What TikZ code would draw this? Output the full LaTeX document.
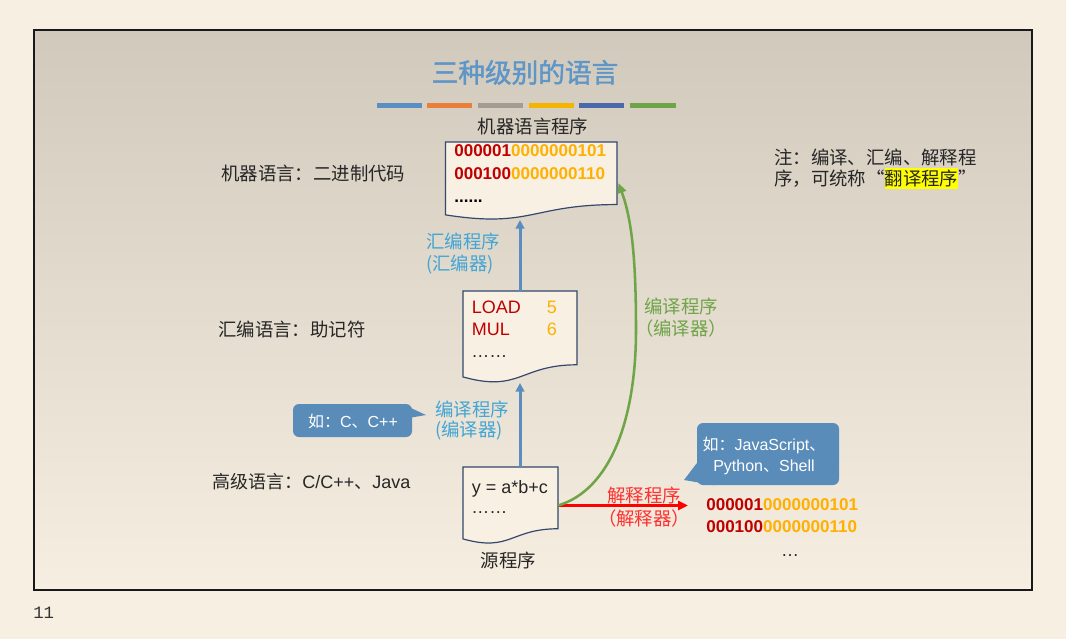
\documentclass[tikz,border=0pt]{standalone}
\usepackage{fontspec}
\setmainfont{Liberation Sans}
\setmonofont{Liberation Mono}
\newfontfamily\cjk{Noto Sans CJK SC}
\newfontfamily\cjktitle[FakeBold=1.6]{Noto Sans CJK SC}
\usetikzlibrary{calc,fit,arrows.meta}
\definecolor{pagebg}{HTML}{F7F0E2}
\definecolor{slidetop}{HTML}{D1C9BC}
\definecolor{slidemid}{HTML}{E9E1D2}
\definecolor{slidebot}{HTML}{F6EEE0}
\definecolor{titleblue}{HTML}{5F96C8}
\definecolor{barA}{HTML}{5B8FC4}
\definecolor{barB}{HTML}{E8803A}
\definecolor{barC}{HTML}{A29C91}
\definecolor{barD}{HTML}{F5B400}
\definecolor{barE}{HTML}{4A69A8}
\definecolor{barF}{HTML}{6FA448}
\definecolor{docfillc}{HTML}{F8F1E3}
\definecolor{doclinec}{HTML}{34476C}
\definecolor{darkred}{HTML}{C00000}
\definecolor{goldc}{HTML}{FFB000}
\definecolor{arrowblue}{HTML}{5B8DBF}
\definecolor{labelblue}{HTML}{42A5D5}
\definecolor{calloutblue}{HTML}{5A8CB9}
\definecolor{greenc}{HTML}{6FA448}
\definecolor{redc}{HTML}{FF0000}
\definecolor{redtext}{HTML}{FF3030}
\definecolor{textc}{HTML}{262626}
\definecolor{hl}{HTML}{FFFF00}
\newcommand\docshape[1]{%
  \path[docstyle] (#1.north west) -- (#1.north east)
    -- ($(#1.north east)!0.802!(#1.south east)$)
    .. controls ($(#1.north)!0.802!(#1.south)$) and ($(#1.north)!1.107!(#1.south)$)
    .. ($(#1.north west)!0.934!(#1.south west)$) -- cycle;}
\begin{document}
\begin{tikzpicture}[x=0.75pt,y=-0.75pt,
  docstyle/.style={fill=docfillc, draw=doclinec, line width=0.9pt},
  docbox/.style={inner sep=0pt, outer sep=0pt},
  cjktext/.style={font=\cjk\fontsize{13.8}{16.5}\selectfont, text=textc, inner sep=0pt},
  lattext/.style={font=\fontsize{13.5}{16.5}\selectfont, text=textc, inner sep=0pt},
  codetext/.style={font=\bfseries\fontsize{12.8}{15}\selectfont, inner sep=0pt},
  asmtext/.style={font=\fontsize{13.5}{16}\selectfont, inner sep=0pt},
  calltext/.style={font=\fontsize{12}{15}\selectfont, text=white, inner sep=0pt},
  callbox/.style={inner sep=0pt, fill=calloutblue, rounded corners=4.5pt},
  bluelabel/.style={cjktext, text=labelblue},
  greenlabel/.style={cjktext, text=greenc},
  redlabel/.style={cjktext, text=redtext},
  bluearr/.style={draw=arrowblue, line width=2.25pt, -{Triangle[length=6.5pt,width=6.5pt]}},
  redarr/.style={draw=redc, line width=2.2pt, -{Triangle[length=7.5pt,width=6.8pt]}},
  greenarr/.style={draw=greenc, line width=1.9pt, -{Triangle[length=7.5pt,width=6.5pt]}}
]
\useasboundingbox (0,0) rectangle (1066,639);
\fill[pagebg] (0,0) rectangle (1066,639);
\shade[top color=slidetop, middle color=slidemid, bottom color=slidebot] (34,30) rectangle (1032,590);
\draw[line width=1.6pt, black!90] (34,30) rectangle (1032,590);

% title and colour bars
\node[font=\cjktitle\fontsize{20}{24}\selectfont, text=titleblue, inner sep=0pt, anchor=base] (title) at (525,82.5) {三种级别的语言};
\fill[barA] (377,103) rectangle (422,108);
\fill[barB] (427,103) rectangle (472,108);
\fill[barC] (478,103) rectangle (523,108);
\fill[barD] (529,103) rectangle (574,108);
\fill[barE] (579,103) rectangle (624,108);
\fill[barF] (630,103) rectangle (676,108);

% documents
\node[docbox, fit={(445.5,142) (617,220)}] (d1) {};
\node[docbox, fit={(463,291) (577,383)}] (d2) {};
\node[docbox, fit={(463,467) (558,544)}] (d3) {};
\docshape{d1}
\docshape{d2}
\docshape{d3}

\node[cjktext, anchor=base] (d1lab) at (533,133.5) {机器语言程序};
\node[codetext, anchor=base west] (d1l1) at (454,156) {\textcolor{darkred}{000001}\textcolor{goldc}{0000000101}};
\node[codetext, anchor=base west] (d1l2) at (454,179) {\textcolor{darkred}{000100}\textcolor{goldc}{0000000110}};
\node[codetext, anchor=base west, text=black] (d1l3) at (454,202) {......};

\node[asmtext, anchor=base west, text=darkred] (d2l1) at (471.5,313) {LOAD};
\node[asmtext, anchor=base west, text=goldc] (d2n1) at (546.5,313) {5};
\node[asmtext, anchor=base west, text=darkred] (d2l2) at (471.5,335) {MUL};
\node[asmtext, anchor=base west, text=goldc] (d2n2) at (546.5,335) {6};
\node[asmtext, anchor=base west, text=textc] (d2l3) at (471,357) {……};

\node[asmtext, anchor=base west, text=textc] (d3l1) at (471.5,493.3) {y = a*b+c};
\node[asmtext, anchor=base west, text=textc] (d3l2) at (471,513.5) {……};
\node[cjktext, anchor=base] (d3lab) at (508.5,567) {源程序};

% level labels
\node[cjktext, anchor=base west] (lv1) at (221,180) {机器语言：二进制代码};
\node[cjktext, anchor=base west] (lv2) at (218,336) {汇编语言：助记符};
\node[lattext, anchor=base west] (lv3) at (212,488.5) {{\cjk 高级语言：}C/C++{\cjk 、}Java};

% note
\node[cjktext, anchor=base west] (note1) at (774,164.5) {注：编译、汇编、解释程};
\node[cjktext, anchor=base west] (note2) at (774,185) {序，可统称“{\setlength\fboxsep{0pt}\colorbox{hl}{\rule[-3pt]{0pt}{15.5pt}翻译程序}}”};

% arrows
\coordinate (a1top) at (d2.north |- d1.south);
\draw[bluearr] (d2.north) -- (a1top);
\coordinate (a2bot) at (d2.south |- d3.north);
\draw[bluearr] (a2bot) -- (d2.south);
\coordinate (rend) at (688,505.5);
\draw[redarr] (d3.east) -- (rend);
\coordinate (gend) at ($(d1.east)+(1.5,2)$);
\draw[greenarr] (d3.east) .. controls (610,490) and (636,420) .. (636,330)
  .. controls (636,260) and (632,220) .. (gend);

% arrow labels
\node[bluelabel, anchor=base west] (al1) at (426,248.5) {汇编程序};
\node[bluelabel, anchor=base west] (al2) at (426,270) {(汇编器)};
\node[bluelabel, anchor=base west] (bl1) at (435,416) {编译程序};
\node[bluelabel, anchor=base west] (bl2) at (435,436.5) {(编译器)};
\node[greenlabel, anchor=base] (gl1) at (681,313) {编译程序};
\node[greenlabel, anchor=base] (gl2) at (681,335) {（编译器）};
\node[redlabel, anchor=base] (rl1) at (644,502) {解释程序};
\node[redlabel, anchor=base] (rl2) at (644,525) {（解释器）};

% callouts
\node[callbox, fit={(293,404) (412,437)}] (c1) {};
\coordinate (p1) at (426,415);
\fill[calloutblue] ($(c1.north east)+(-2,4)$) -- (p1) -- ($(c1.north east)+(-2,14)$) -- cycle;
\node[calltext, anchor=base] (c1t) at (353,427.5) {{\cjk 如：}C{\cjk 、}C++};

\node[callbox, fit={(697,423) (839,485)}] (c2) {};
\coordinate (p2) at (684,480);
\fill[calloutblue] ($(c2.south west)+(0,-22)$) -- (p2) -- ($(c2.south west)+(18,0)$) -- ($(c2.south west)+(8,-8)$) -- cycle;
\node[calltext, anchor=base] (c2t1) at (764,450.7) {{\cjk 如：}JavaScript{\cjk 、}};
\node[calltext, anchor=base] (c2t2) at (764,471) {Python{\cjk 、}Shell};

% interpreted output
\node[codetext, anchor=base west] (o1) at (706,510) {\textcolor{darkred}{000001}\textcolor{goldc}{0000000101}};
\node[codetext, anchor=base west] (o2) at (706,532) {\textcolor{darkred}{000100}\textcolor{goldc}{0000000110}};
\node[asmtext, anchor=base, text=textc] (o3) at (790,556) {…};

% page number
\node[font=\ttfamily\fontsize{13}{15}\selectfont, text=black!80, inner sep=0pt, anchor=base west] (pg) at (33,618) {11};
\end{tikzpicture}
\end{document}
